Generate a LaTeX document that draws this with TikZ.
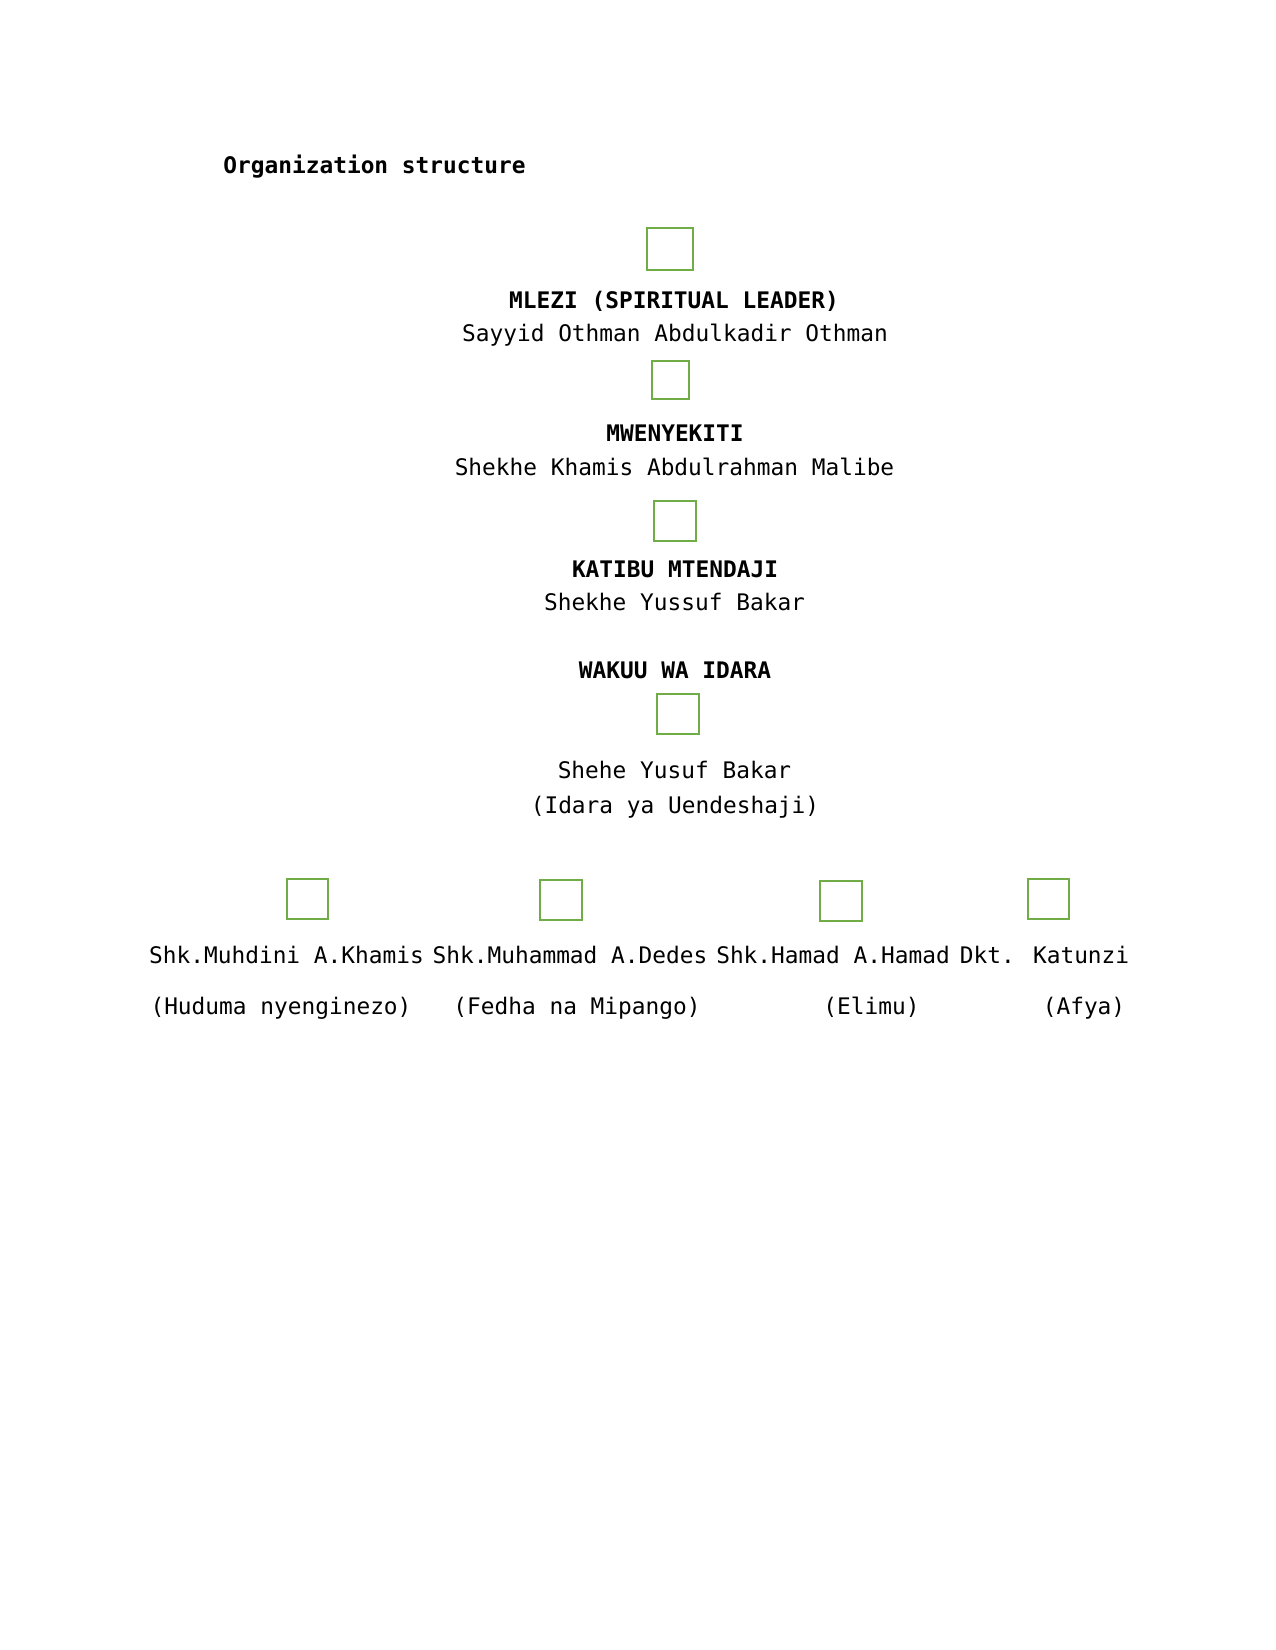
\documentclass[tikz,border=0pt]{standalone}
\usepackage{fontspec}
\setmainfont{DejaVu Sans Mono}
\definecolor{boxgreen}{RGB}{112,173,71}
\begin{document}
\begin{tikzpicture}[x=0.48pt,y=-0.48pt,
  gbox/.style={draw=boxgreen,line width=1pt,inner sep=0pt,minimum width={42*0.48pt},minimum height={40*0.48pt}},
  txt/.style={inner sep=0pt,anchor=base,font=\fontsize{10.95pt}{13pt}\selectfont},
  btxt/.style={txt,font=\fontsize{10.95pt}{13pt}\selectfont\bfseries}]
\useasboundingbox (0,0) rectangle (1275,1650);
\node[btxt,anchor=base west] (title) at (223,174) {Organization structure};
% level 1
\node[gbox,minimum width={46*0.48pt},minimum height={42*0.48pt}] (b1) at (670,249) {};
\node[btxt] (t1) at (674,309) {MLEZI (SPIRITUAL LEADER)};
\node[txt] (n1) at (675,342) {Sayyid Othman Abdulkadir Othman};
% level 2
\node[gbox,minimum width={37*0.48pt},minimum height={38*0.48pt}] (b2) at (670.5,380) {};
\node[btxt] (t2) at (675,442) {MWENYEKITI};
\node[txt] (n2) at (674.5,476) {Shekhe Khamis Abdulrahman Malibe};
% level 3
\node[gbox] (b3) at (675,521) {};
\node[btxt] (t3) at (675,577) {KATIBU MTENDAJI};
\node[txt] (n3) at (674.5,610) {Shekhe Yussuf Bakar};
% level 4
\node[btxt] (t4) at (675,678) {WAKUU WA IDARA};
\node[gbox] (b4) at (678,714) {};
\node[txt] (n4) at (674.5,778) {Shehe Yusuf Bakar};
\node[txt] (d4) at (675,813) {(Idara ya Uendeshaji)};
% departments
\node[gbox,minimum width={41*0.48pt}] (b5) at (307.5,899) {};
\node[gbox] (b6) at (561,900) {};
\node[gbox] (b7) at (841,901) {};
\node[gbox,minimum width={41*0.48pt}] (b8) at (1048.5,899) {};
\node[txt] (n5) at (286.5,963) {Shk.Muhdini A.Khamis};
\node[txt] (n6) at (570,963) {Shk.Muhammad A.Dedes};
\node[txt] (n7) at (833,963) {Shk.Hamad A.Hamad};
\node[txt] (n8) at (1044.5,963) {Dkt. Katunzi};
\node[txt] (d5) at (281,1014) {(Huduma nyenginezo)};
\node[txt] (d6) at (577,1014) {(Fedha na Mipango)};
\node[txt] (d7) at (871.5,1014) {(Elimu)};
\node[txt] (d8) at (1084,1014) {(Afya)};
\end{tikzpicture}
\end{document}
